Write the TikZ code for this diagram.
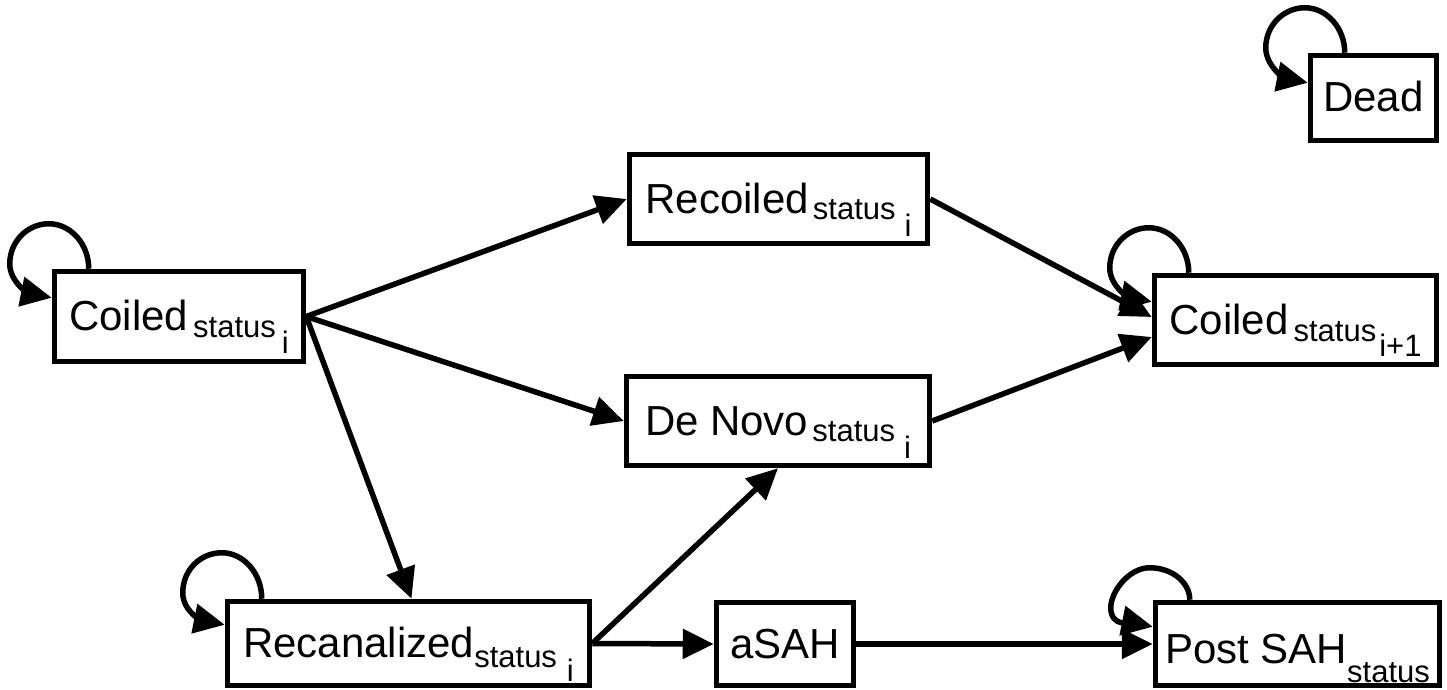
\documentclass[tikz,border=0pt]{standalone}
\usepackage{fontspec}
\setmainfont{Liberation Sans}
\usetikzlibrary{arrows.meta}
\newcommand\subtxt[1]{{\fontsize{31}{36}\selectfont #1}}
\newcommand\selfloop[3]{%
  \draw[arr] ([xshift=37pt]#1.north west)
    .. controls +(0,{0.55*#2}) and +(22,0) .. ([shift={(-3,#2)}]#1.north west)
    .. controls +(-21,0) and +(0,{0.5*#2}) .. ([shift={(-42,{#2-40})}]#1.north west)
    .. controls +(0,-20) and +(-20,4) .. ([yshift=-#3pt]#1.north west);}
\begin{document}
\begin{tikzpicture}[x=1pt,y=1pt,
  box/.style={draw, line width=5.5pt, inner sep=0pt, text height=28pt, text depth=0pt,
    font=\fontsize{42}{48}\selectfont},
  arr/.style={line width=5.5pt, -{Triangle[length=31pt,width=29pt]}}]
\useasboundingbox (0,0) rectangle (1447,-690);

\node[box, minimum width=126pt, minimum height=85pt] (dead) at (1373.5,-98) {Dead};
\node[box, minimum width=298pt, minimum height=89pt] (recoiled) at (778.5,-199)
  {Recoiled\hspace{4pt}\raisebox{-6pt}{\subtxt{status}}\hspace{9pt}\raisebox{-23pt}{\subtxt{i}}};
\node[box, minimum width=249pt, minimum height=90pt] (coiled) at (179,-316.5)
  {Coiled\hspace{5pt}\raisebox{-7pt}{\subtxt{status}}\hspace{6pt}\raisebox{-23pt}{\subtxt{i}}};
\node[box, minimum width=282pt, minimum height=89pt] (coiled2) at (1295.5,-320)
  {Coiled\hspace{5pt}\raisebox{-7pt}{\subtxt{status}}\hspace{3pt}\raisebox{-22pt}{\subtxt{i+1}}};
\node[box, minimum width=303pt, minimum height=89pt] (denovo) at (778,-421)
  {De Novo\hspace{4pt}\raisebox{-6pt}{\subtxt{status}}\hspace{9pt}\raisebox{-23pt}{\subtxt{i}}};
\node[box, minimum width=362pt, minimum height=84pt] (recan) at (408.5,-643.5)
  {Recanalized\raisebox{-10pt}{\subtxt{status}}\hspace{10pt}\raisebox{-24pt}{\subtxt{i}}};
\node[box, minimum width=137pt, minimum height=83pt] (asah) at (785,-644) {aSAH};
\node[box, minimum width=284pt, minimum height=83pt, text height=38pt] (post) at (1297.5,-644)
  {Post SAH\raisebox{-19pt}{\subtxt{status}}};

\draw[arr] (coiled.east) -- (recoiled.west);
\draw[arr] (coiled.east) -- (denovo.west);
\draw[arr] (coiled.east) -- ([xshift=3pt]recan.north);
\draw[arr] (recoiled.east) -- ([yshift=3pt]coiled2.west);
\draw[arr] (denovo.east) -- ([yshift=-17pt]coiled2.west);
\draw[arr] (recan.east) -- (denovo.south);
\draw[arr] (recan.east) -- (asah.west);
\draw[arr] (asah.east) -- (post.west);

\selfloop{dead}{45}{30}
\selfloop{coiled}{45}{29}
\selfloop{coiled2}{45}{29}
\selfloop{recan}{46}{26}
\selfloop{post}{32}{27}
\end{tikzpicture}
\end{document}
